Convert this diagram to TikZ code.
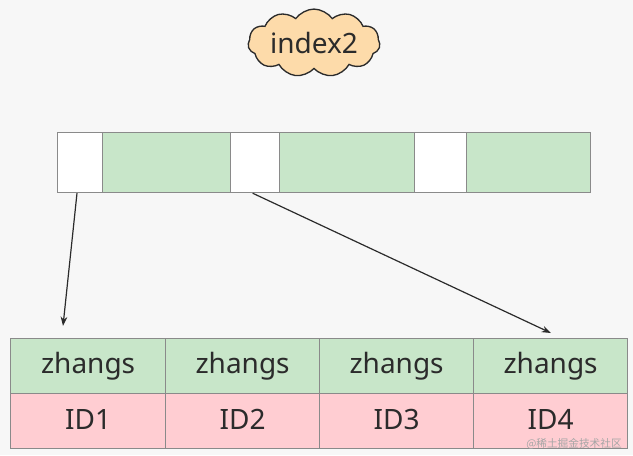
\documentclass[tikz,border=0pt]{standalone}
\usepackage{fontspec}
\setmainfont{Noto Sans}
\newfontfamily\cjk{Noto Sans CJK SC}
\usetikzlibrary{shapes.symbols,arrows.meta}
\definecolor{cgreen}{HTML}{C8E6C9}
\definecolor{cpink}{HTML}{FFCDD2}
\definecolor{cline}{HTML}{8A8A8A}
\definecolor{ccloud}{HTML}{FDDBAA}
\definecolor{ctext}{HTML}{2B2B2B}
\tikzset{
  cellbox/.style={draw=cline, line width=0.9pt, anchor=north west, inner sep=0pt, text=ctext, font=\fontsize{21}{25}\selectfont},
  barwhite/.style={cellbox, fill=white},
  bargreen/.style={cellbox, fill=cgreen},
  keycell/.style={cellbox, fill=cgreen, minimum width=115.5pt, minimum height=41.25pt},
  idcell/.style={cellbox, fill=cpink, minimum width=115.5pt, minimum height=41.25pt},
  idtext/.style={inner sep=0pt, text=ctext, font=\fontsize{21}{25}\selectfont},
  ptr/.style={draw=ctext, line width=0.9pt, -{Stealth[length=7pt,width=5pt]}}
}
\begin{document}
\begin{tikzpicture}[x=0.75pt,y=-0.75pt]
\fill[white!97!black] (0,0) rectangle (633,455);
\useasboundingbox (0,0) rectangle (633,455);
% cloud
\node[cloud, cloud puffs=11, cloud puff arc=110, aspect=2.4, draw=ctext, line width=1pt, fill=ccloud, minimum width=99pt, minimum height=42pt, inner sep=0pt, text=ctext, font=\fontsize{21}{25}\selectfont] (cl) at (314,43) {index2};
% top bar
\node[barwhite, minimum width=33.75pt, minimum height=45pt] (w1) at (57,132) {};
\node[bargreen, minimum width=96pt, minimum height=45pt] (g1) at (102,132) {};
\node[barwhite, minimum width=36.75pt, minimum height=45pt] (w2) at (230,132) {};
\node[bargreen, minimum width=101.25pt, minimum height=45pt] (g2) at (279,132) {};
\node[barwhite, minimum width=39pt, minimum height=45pt] (w3) at (414,132) {};
\node[bargreen, minimum width=93pt, minimum height=45pt] (g3) at (466,132) {};
% table
\node[keycell, minimum width=116.25pt] (k1) at (10,338) {zhangs};
\node[keycell, minimum width=115.5pt] (k2) at (165,338) {zhangs};
\node[keycell, minimum width=115.5pt] (k3) at (319,338) {zhangs};
\node[keycell, minimum width=115.5pt] (k4) at (473,338) {zhangs};
\node[idcell, minimum width=116.25pt] (i1) at (10,393) {};
\node[idcell, minimum width=115.5pt] (i2) at (165,393) {};
\node[idcell, minimum width=115.5pt] (i3) at (319,393) {};
\node[idcell, minimum width=115.5pt] (i4) at (473,393) {};
\node[idtext] (l1) at ([yshift=1.5pt]i1.center) {ID1};
\node[idtext] (l2) at ([yshift=1.5pt]i2.center) {ID2};
\node[idtext] (l3) at ([yshift=1.5pt]i3.center) {ID3};
\node[idtext] (l4) at ([yshift=1.5pt]i4.center) {ID4};
% pointers
\coordinate (t1) at (63,326);
\coordinate (t2) at (551,333);
\draw[ptr] ([xshift=15pt]w1.south west) -- (t1);
\draw[ptr] ([xshift=17pt]w2.south west) -- (t2);
% watermark
\node[anchor=east, text=black!35, font=\cjk\fontsize{8}{9}\selectfont, inner sep=0pt] (wm) at (622,444) {@稀土掘金技术社区};
\end{tikzpicture}
\end{document}
